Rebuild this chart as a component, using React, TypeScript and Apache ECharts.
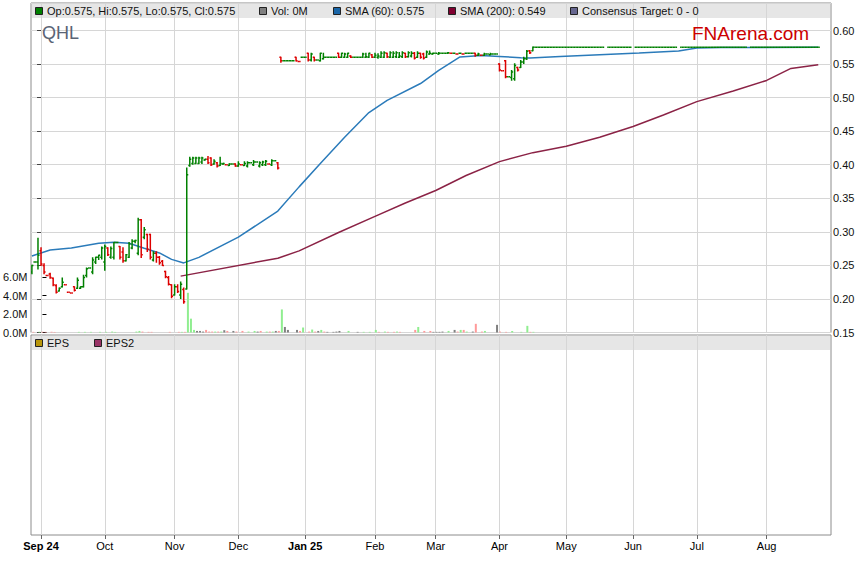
import { useEffect, useRef } from 'react';
import * as echarts from 'echarts';

// x values are weekday indices: 0 = Mon 2 Sep 2024 (one slot per weekday)
const FIRST_INDEX = -3;

// [open, high, low, close] per weekday, a single number = no range (O=H=L=C), null = no bar
const ohlc: (number | number[] | null)[] = [
  [0.240, 0.250, 0.238, 0.250], 0.255, [0.255, 0.290, 0.245, 0.265], [0.272, 0.276, 0.250, 0.252],
  [0.250, 0.252, 0.238, 0.240], 0.235, [0.237, 0.238, 0.231, 0.232], [0.231, 0.231, 0.220, 0.221],
  [0.220, 0.221, 0.209, 0.210], [0.212, 0.216, 0.212, 0.216], [0.218, 0.231, 0.218, 0.225], 0.221,
  0.210, 0.209, [0.218, 0.218, 0.212, 0.213], [0.216, 0.231, 0.216, 0.228],
  [0.216, 0.218, 0.216, 0.218], [0.218, 0.235, 0.218, 0.232], [0.235, 0.246, 0.233, 0.245], 0.246,
  [0.240, 0.261, 0.238, 0.258], [0.255, 0.262, 0.253, 0.262], [0.262, 0.265, 0.259, 0.265], [0.262, 0.277, 0.260, 0.276],
  [0.255, 0.280, 0.243, 0.278], [0.276, 0.276, 0.265, 0.266], [0.262, 0.277, 0.261, 0.275], [0.262, 0.284, 0.260, 0.284],
  0.284, [0.278, 0.278, 0.260, 0.262], [0.270, 0.276, 0.255, 0.257], [0.257, 0.266, 0.257, 0.266],
  [0.262, 0.284, 0.262, 0.282], [0.276, 0.288, 0.275, 0.286], [0.286, 0.287, 0.284, 0.287], [0.268, 0.320, 0.266, 0.318],
  [0.318, 0.318, 0.262, 0.266], [0.292, 0.306, 0.290, 0.303], [0.296, 0.296, 0.271, 0.274], [0.296, 0.296, 0.260, 0.262],
  [0.258, 0.270, 0.257, 0.268], [0.268, 0.270, 0.255, 0.262], [0.262, 0.263, 0.252, 0.254], [0.256, 0.257, 0.250, 0.250],
  [0.241, 0.241, 0.232, 0.233], [0.232, 0.233, 0.221, 0.222], [0.221, 0.221, 0.202, 0.204], [0.206, 0.221, 0.206, 0.218],
  [0.218, 0.221, 0.210, 0.211], [0.206, 0.225, 0.201, 0.222], [0.214, 0.216, 0.194, 0.196], [0.215, 0.395, 0.215, 0.385],
  // 49..78
  [0.399, 0.411, 0.398, 0.408], [0.402, 0.411, 0.401, 0.410], [0.402, 0.411, 0.402, 0.410], [0.402, 0.411, 0.402, 0.410],
  [0.404, 0.411, 0.402, 0.410], [0.407, 0.408, 0.407, 0.408], [0.408, 0.412, 0.402, 0.403], [0.410, 0.410, 0.399, 0.400],
  [0.401, 0.407, 0.401, 0.405], [0.403, 0.403, 0.397, 0.398], [0.399, 0.411, 0.399, 0.402], [0.401, 0.402, 0.401, 0.402],
  0.400, [0.399, 0.401, 0.399, 0.401], 0.401, [0.401, 0.401, 0.398, 0.398],
  [0.398, 0.404, 0.398, 0.401], 0.400, [0.399, 0.404, 0.399, 0.402], [0.398, 0.404, 0.397, 0.403],
  0.403, [0.400, 0.406, 0.399, 0.404], 0.404, [0.398, 0.404, 0.397, 0.403],
  [0.400, 0.405, 0.399, 0.404], [0.400, 0.406, 0.399, 0.405], 0.401, [0.400, 0.407, 0.399, 0.406],
  0.406, [0.403, 0.403, 0.394, 0.395],
  // 79..162
  [0.560, 0.560, 0.553, 0.555], 0.555, 0.555, 0.555, 0.555, [0.560, 0.560, 0.555, 0.555], 0.554, 0.560, 0.560,
  [0.566, 0.566, 0.555, 0.556], [0.556, 0.566, 0.555, 0.565], [0.560, 0.560, 0.555, 0.556], 0.556,
  [0.555, 0.566, 0.555, 0.566], [0.558, 0.566, 0.558, 0.560], 0.560, 0.560, 0.560, 0.560,
  [0.566, 0.566, 0.560, 0.560], [0.560, 0.566, 0.560, 0.566], [0.560, 0.566, 0.560, 0.565], [0.560, 0.566, 0.560, 0.566],
  [0.562, 0.562, 0.560, 0.560], 0.560, 0.560, 0.560,
  [0.560, 0.566, 0.560, 0.565], [0.560, 0.566, 0.560, 0.561], [0.560, 0.566, 0.560, 0.566], [0.564, 0.564, 0.560, 0.560],
  [0.560, 0.566, 0.560, 0.563], [0.560, 0.565, 0.559, 0.562], [0.560, 0.568, 0.560, 0.566], [0.560, 0.568, 0.560, 0.567],
  [0.566, 0.566, 0.560, 0.561], [0.560, 0.568, 0.560, 0.567], [0.560, 0.568, 0.560, 0.566], [0.561, 0.568, 0.560, 0.567],
  [0.560, 0.567, 0.560, 0.562], [0.561, 0.568, 0.560, 0.567], [0.566, 0.566, 0.560, 0.561], [0.561, 0.568, 0.561, 0.567],
  [0.562, 0.568, 0.561, 0.566], [0.566, 0.567, 0.558, 0.559], [0.560, 0.568, 0.560, 0.566], [0.566, 0.566, 0.559, 0.560],
  [0.565, 0.566, 0.558, 0.559], [0.560, 0.569, 0.560, 0.568], [0.565, 0.569, 0.565, 0.566], [0.565, 0.566, 0.565, 0.566],
  0.566, [0.565, 0.567, 0.565, 0.566], 0.566, 0.566, [0.566, 0.567, 0.566, 0.567], 0.566, 0.566,
  0.565, 0.566, 0.565, 0.566, 0.566, 0.566,
  [0.566, 0.566, 0.562, 0.563], [0.563, 0.566, 0.563, 0.565], 0.563, [0.563, 0.566, 0.563, 0.565],
  0.565, [0.564, 0.566, 0.564, 0.565], 0.565, 0.565,
  [0.550, 0.550, 0.540, 0.541], 0.540, [0.555, 0.555, 0.530, 0.531], 0.531,
  [0.530, 0.540, 0.526, 0.538], [0.528, 0.550, 0.526, 0.548], [0.545, 0.545, 0.540, 0.541], [0.545, 0.555, 0.545, 0.553],
  [0.553, 0.560, 0.551, 0.558], [0.558, 0.570, 0.557, 0.569], [0.570, 0.570, 0.566, 0.567], [0.570, 0.575, 0.570, 0.575],
  // 163..256
  0.575, 0.575, 0.575, 0.575, 0.575, 0.575, 0.575, 0.575, 0.575, 0.575,
  0.575, 0.575, 0.575, 0.575, 0.575, 0.575, 0.575, 0.575, 0.575, 0.575,
  0.575, 0.575, 0.575, null, 0.575, 0.575, 0.575, 0.575, 0.575, 0.575,
  0.575, 0.575, null, 0.575, 0.575, 0.575, 0.575, 0.575, 0.575, 0.575,
  0.575, 0.575, 0.575, 0.575, 0.575, 0.575, 0.575, null, 0.575, 0.575,
  0.575, 0.575, 0.575, 0.575, 0.575, 0.575, 0.575, 0.575, 0.575, 0.575,
  0.575, 0.575, 0.575, 0.575, 0.575, 0.575, 0.575, 0.575, 0.575, 0.575,
  null, 0.575, 0.575, 0.575, 0.575, 0.575, 0.575, 0.575, 0.575, 0.575,
  0.575, 0.575, 0.575, 0.575, 0.575, 0.575, 0.575, 0.575, 0.575, 0.575,
  0.575, 0.575, 0.575, 0.575,
];

// daily volume in millions, from FIRST_INDEX onward (later days: 0)
const volumeM: number[] = [
  0.07, 0, 0.08, 0.08, 0.07, 0, 0.08, 0.06, 0, 0,
  0, 0, 0, 0, 0, 0.07, 0, 0.07, 0, 0.07,
  0, 0, 0.07, 0, 0.07, 0, 0.1, 0.06, 0, 0,
  0, 0, 0, 0, 0.1, 0.17, 0.1, 0, 0.07, 0.07,
  0, 0, 0, 0, 0, 0.07, 0, 0, 0.07, 0.07,
  0.07, 4.3, 1.5, 0.28, 0.17, 0.17, 0.1, 0.28, 0.1, 0.1,
  0.1, 0.1, 0.1, 0.25, 0.17, 0, 0.17, 0.1, 0, 0.17,
  0, 0.1, 0, 0.17, 0.1, 0.17, 0, 0.1, 0.1, 0.1,
  0.17, 0.17, 2.5, 0.6, 0.28, 0, 0, 0.28, 0.17, 0.54,
  0, 0.1, 0.32, 0.1, 0.17, 0.28, 0.1, 0.07, 0, 0.07,
  0.1, 0.17, 0, 0, 0.17, 0, 0, 0.07, 0, 0.07,
  0, 0.07, 0, 0.28, 0.07, 0, 0.1, 0.07, 0, 0.07,
  0.1, 0.07, 0, 0, 0, 0, 0.28, 0.6, 0, 0.17,
  0, 0.17, 0.07, 0.07, 0.07, 0.1, 0, 0.17, 0, 0.28,
  0.1, 0.28, 0.28, 0.1, 0, 0.1, 0.94, 0, 0.1, 0.17,
  0, 0, 0, 0.83, 0.1, 0, 0.07, 0, 0.17, 0,
  0, 0.07, 0, 0.72, 0.07, 0.07,
];

// moving averages: [weekday index, value]
const sma60: [number, number][] = [
  [-3, 0.264], [3, 0.273], [10, 0.276], [19, 0.283], [24, 0.2845], [29, 0.283], [34, 0.2755],
  [39, 0.2686], [43, 0.259], [47, 0.2537], [52, 0.262], [65, 0.292], [78, 0.331], [85, 0.367],
  [92, 0.402], [100, 0.441], [108, 0.4777], [114, 0.4958], [125, 0.521], [131, 0.5405],
  [138, 0.5606], [145, 0.5628], [151, 0.5613], [158, 0.5594], [161, 0.559], [171, 0.5613],
  [184, 0.5638], [197, 0.5665], [210, 0.5695], [216, 0.574], [224, 0.5747], [256, 0.575],
];
const sma200: [number, number][] = [
  [46, 0.234], [78, 0.2607], [85, 0.2716], [98, 0.299], [110, 0.323], [120, 0.343], [130, 0.3616],
  [140, 0.384], [151, 0.4046], [162, 0.418], [173, 0.4274], [184, 0.441], [195, 0.457], [205, 0.474],
  [216, 0.494], [228, 0.510], [239, 0.5256], [247, 0.5435], [256, 0.549],
];

const monthTickIndex = [0, 21, 44, 65, 87, 110, 130, 151, 173, 195, 216, 239];
const monthLabels = ['Sep 24', 'Oct', 'Nov', 'Dec', 'Jan 25', 'Feb', 'Mar', 'Apr', 'May', 'Jun', 'Jul', 'Aug'];
const boldMonthLabels = ['Sep 24', 'Jan 25'];
const volumeTicksM = [0, 2, 4, 6];

const legendTop = [
  { label: 'Op:0.575, Hi:0.575, Lo:0.575, Cl:0.575', color: '#008000' },
  { label: 'Vol: 0M', color: '#808080' },
  { label: 'SMA (60): 0.575', color: '#1a66a8' },
  { label: 'SMA (200): 0.549', color: '#800030' },
  { label: 'Consensus Target: 0 - 0', color: '#66668f' },
];
const legendBottom = [
  { label: 'EPS', color: '#b8960b' },
  { label: 'EPS2', color: '#993366' },
];

const FONT = '"Liberation Sans", Arial, Helvetica, sans-serif';
const UP = '#008000';
const DOWN = '#dd0000';
const GRID_COLOR = '#d6d6d6';
const X_MIN = -3.3;
const X_MAX = 260.2;
const MAIN = { left: 31, top: 3, width: 800, height: 329.5 };

function buildOption() {
  const bars: { n: number; o: number; h: number; l: number; c: number; up: boolean; dir: number }[] = [];
  let prevC: number | null = null;
  ohlc.forEach((e, i) => {
    if (e === null) return;
    const [o, h, l, c] = typeof e === 'number' ? [e, e, e, e] : e;
    const up = c > o ? true : c < o ? false : prevC === null || c >= prevC;
    const dir = prevC === null ? -1 : c > prevC ? 1 : c < prevC ? -1 : 0;
    bars.push({ n: FIRST_INDEX + i, o, h, l, c, up, dir });
    prevC = c;
  });

  const volData = bars
    .map((b) => {
      const v = volumeM[b.n - FIRST_INDEX] || 0;
      if (v <= 0) return null;
      const color = b.dir > 0 ? '#90ee90' : b.dir < 0 ? '#ff9a9a' : '#808080';
      return { value: [b.n, v * 1e6], itemStyle: { color } };
    })
    .filter(Boolean);

  const graphics: any[] = [
    { type: 'rect', silent: true, z: 0, shape: { x: 32, y: 4, width: 798, height: 14 }, style: { fill: '#e6e6e6' } },
    { type: 'rect', silent: true, z: 0, shape: { x: 32, y: 336, width: 798, height: 14 }, style: { fill: '#e6e6e6' } },
    {
      type: 'text', z: 10, x: 42, y: 33,
      style: { text: 'QHL', font: `18px ${FONT}`, fill: '#5a6475', textVerticalAlign: 'middle' },
    },
    {
      type: 'text', z: 10, x: 692, y: 33,
      style: { text: 'FNArena.com', font: `19px ${FONT}`, fill: '#cc0000', textVerticalAlign: 'middle' },
    },
  ];
  const topX = [35, 259, 333, 448, 570];
  legendTop.forEach((it, i) => {
    graphics.push({
      type: 'rect', z: 10, shape: { x: topX[i] + 0.5, y: 7.5, width: 7, height: 7 },
      style: { fill: it.color, stroke: '#222', lineWidth: 1 },
    });
    graphics.push({
      type: 'text', z: 10, x: topX[i] + 12, y: 11,
      style: { text: it.label, font: `11px ${FONT}`, fill: '#111', textVerticalAlign: 'middle' },
    });
  });
  const botX = [35, 94];
  legendBottom.forEach((it, i) => {
    graphics.push({
      type: 'rect', z: 10, shape: { x: botX[i] + 0.5, y: 339.5, width: 7, height: 7 },
      style: { fill: it.color, stroke: '#222', lineWidth: 1 },
    });
    graphics.push({
      type: 'text', z: 10, x: botX[i] + 12, y: 343,
      style: { text: it.label, font: `11px ${FONT}`, fill: '#111', textVerticalAlign: 'middle' },
    });
  });

  const gridLine = { show: true, lineStyle: { color: GRID_COLOR, width: 1 } };

  return {
    animation: false,
    textStyle: { fontFamily: FONT },
    graphic: { elements: graphics },
    grid: [
      { ...MAIN, show: true, borderColor: '#8c8c8c', borderWidth: 1, backgroundColor: 'transparent' },
      { left: 31, top: 335, width: 800, height: 200, show: true, borderColor: '#8c8c8c', borderWidth: 1, backgroundColor: 'transparent' },
      { ...MAIN, show: false },
    ],
    xAxis: [
      {
        type: 'value', gridIndex: 0, min: X_MIN, max: X_MAX,
        axisLine: { show: false },
        axisTick: { show: false, customValues: monthTickIndex },
        axisLabel: { show: false, customValues: monthTickIndex },
        splitLine: gridLine,
      },
      {
        type: 'value', gridIndex: 1, min: X_MIN, max: X_MAX, position: 'bottom',
        axisLine: { show: false },
        axisTick: { show: true, inside: false, length: 4, customValues: monthTickIndex, lineStyle: { color: '#666' } },
        axisLabel: {
          customValues: monthTickIndex,
          margin: 5,
          fontSize: 11,
          color: '#000',
          fontFamily: FONT,
          formatter: (v: number) => {
            const i = monthTickIndex.indexOf(Math.round(v));
            if (i < 0) return '';
            const t = monthLabels[i];
            return boldMonthLabels.includes(t) ? `{b|${t}}` : t;
          },
          rich: { b: { fontWeight: 'bold', fontSize: 11, color: '#000', fontFamily: FONT } },
        },
        splitLine: gridLine,
      },
      {
        type: 'value', gridIndex: 2, min: X_MIN, max: X_MAX, show: false, splitLine: { show: false },
      },
    ],
    yAxis: [
      {
        type: 'value', gridIndex: 0, position: 'right', min: 0.15, max: 0.641, interval: 0.05,
        axisLine: { show: false },
        axisTick: { show: true, inside: true, length: 4, lineStyle: { color: '#444' } },
        axisLabel: {
          margin: 2, fontSize: 11, color: '#111', fontFamily: FONT,
          showMaxLabel: false,
          formatter: (v: number) => {
            const k = Math.round(v / 0.05);
            return Math.abs(v - k * 0.05) < 1e-6 ? v.toFixed(2) : '';
          },
        },
        splitLine: gridLine,
      },
      { type: 'value', gridIndex: 1, min: 0, max: 1, show: false, splitLine: { show: false } },
      {
        type: 'value', gridIndex: 2, position: 'left', min: 0, max: 35.7e6,
        axisLine: { show: false },
        axisTick: { show: true, inside: true, length: 4, customValues: volumeTicksM.map((v) => v * 1e6), lineStyle: { color: '#000' } },
        axisLabel: {
          customValues: volumeTicksM.map((v) => v * 1e6), margin: 5, fontSize: 11, color: '#111', fontFamily: FONT,
          formatter: (v: number) => (v / 1e6).toFixed(1) + 'M',
        },
        splitLine: { show: false },
      },
    ],
    series: [
      {
        name: 'Vol', type: 'bar', xAxisIndex: 2, yAxisIndex: 2, barWidth: 2, data: volData, z: 2,
      },
      {
        name: 'SMA (200)', type: 'line', xAxisIndex: 0, yAxisIndex: 0, data: sma200, showSymbol: false, symbol: 'none',
        lineStyle: { color: '#8b2346', width: 1.5 }, z: 3,
      },
      {
        name: 'SMA (60)', type: 'line', xAxisIndex: 0, yAxisIndex: 0, data: sma60, showSymbol: false, symbol: 'none',
        lineStyle: { color: '#2b7bba', width: 1.5 }, z: 3,
      },
      {
        name: 'QHL', type: 'custom', xAxisIndex: 0, yAxisIndex: 0, clip: true, z: 4,
        encode: { x: 0, y: [1, 2, 3, 4] },
        data: bars.map((b) => [b.n, b.o, b.h, b.l, b.c, b.up ? 1 : 0]),
        renderItem: (_params: any, api: any) => {
          const n = api.value(0);
          const color = api.value(5) === 1 ? UP : DOWN;
          const top = api.coord([n, api.value(2)]);
          const bot = api.coord([n, api.value(3)]);
          const left = api.coord([n - 0.5, api.value(1)]);
          const right = api.coord([n + 0.5, api.value(4)]);
          const x = top[0];
          const style = { stroke: color, lineWidth: 1.5 };
          const children: any[] = [
            { type: 'line', shape: { x1: left[0], y1: left[1], x2: x, y2: left[1] }, style },
            { type: 'line', shape: { x1: x, y1: right[1], x2: right[0], y2: right[1] }, style },
          ];
          if (bot[1] - top[1] > 0.3) {
            children.push({ type: 'line', shape: { x1: x, y1: top[1] - 0.7, x2: x, y2: bot[1] + 0.7 }, style });
          }
          return { type: 'group', children };
        },
      },
    ],
  };
}

export default function App() {
  const ref = useRef<HTMLDivElement>(null);
  useEffect(() => {
    document.body.style.margin = '0';
    const chart = echarts.init(ref.current!, null, { renderer: 'svg' });
    chart.setOption(buildOption() as any);
    return () => chart.dispose();
  }, []);
  return <div ref={ref} style={{ position: 'absolute', left: 0, top: 0, width: 859, height: 566 }} />;
}
